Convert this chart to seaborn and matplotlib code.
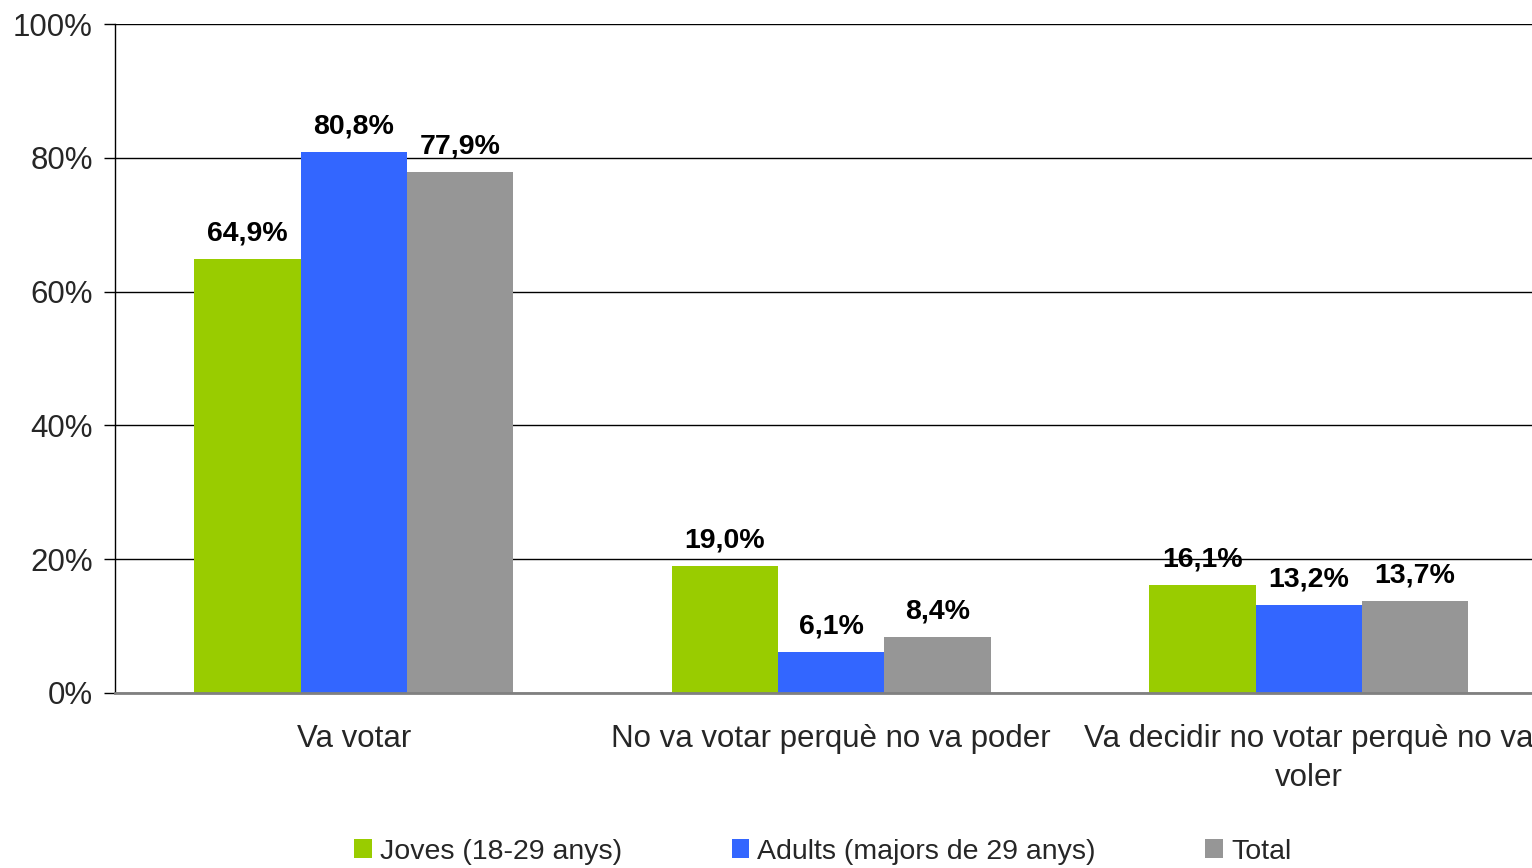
import pandas as pd
import matplotlib.pyplot as plt
import seaborn as sns
from matplotlib.patches import Patch
from matplotlib.ticker import FuncFormatter

categories = ["Va votar", "No va votar perquè no va poder",
              "Va decidir no votar perquè no va\nvoler"]
groups = ["Joves (18-29 anys)", "Adults (majors de 29 anys)", "Total"]
joves = [64.9, 19.0, 16.1]
adults = [80.8, 6.1, 13.2]
total = [77.9, 8.4, 13.7]
colors = ["#99CC00", "#3366FF", "#969696"]

rows = []
for g, vals in zip(groups, [joves, adults, total]):
    for c, v in zip(categories, vals):
        rows.append({"cat": c, "grup": g, "valor": v})
df = pd.DataFrame(rows)

sns.set_style("white")
plt.rcParams['font.family'] = ['Liberation Sans', 'DejaVu Sans']

fig = plt.figure(figsize=(15.32, 8.68), dpi=100)
ax = fig.add_axes([115/1532, 1-693/868, 1432.5/1532, 669/868])

sns.barplot(data=df, x="cat", y="valor", hue="grup", order=categories,
            hue_order=groups, palette=colors, saturation=1, width=0.668,
            gap=0, legend=False, ax=ax, linewidth=0)

for cont in ax.containers:
    ax.bar_label(cont, labels=[f"{v:.1f}%".replace(".", ",") for v in cont.datavalues],
                 padding=9, fontsize=20.5, fontweight="bold", color="black")

ax.set_ylim(0, 100)
ax.set_xlim(-0.5, 2.5)
ax.set_yticks([0, 20, 40, 60, 80, 100])
ax.yaxis.set_major_formatter(FuncFormatter(lambda v, p: f"{v:.0f}%"))
ax.yaxis.grid(True, color="black", linewidth=1)
ax.set_axisbelow(True)
ax.set_xlabel("")
ax.set_ylabel("")

ax.set_xticks([-0.5, 0.5, 1.5, 2.5], minor=True)
ax.tick_params(axis="x", which="major", length=0, pad=22, labelsize=22.5)
ax.tick_params(axis="x", which="minor", length=8, width=1, color="#404040", direction="out")
ax.tick_params(axis="y", length=8, width=1, color="black", pad=8, labelsize=22.5, left=True)
for lbl in ax.get_xticklabels():
    lbl.set_linespacing(1.4)

for s in ["top", "right"]:
    ax.spines[s].set_visible(False)
ax.spines["left"].set_color("black")
ax.spines["left"].set_linewidth(1)
ax.spines["bottom"].set_color("#808080")
ax.spines["bottom"].set_linewidth(2)

handles = [Patch(facecolor=c, edgecolor="none") for c in colors]
fig.legend(handles, groups, loc="center", bbox_to_anchor=(0.537, 0.019), ncol=3,
           frameon=False, fontsize=20.5, handlelength=0.62, handleheight=0.62,
           handletextpad=0.28, columnspacing=3.85, borderaxespad=0)

fig.savefig("out.png", dpi=100)
